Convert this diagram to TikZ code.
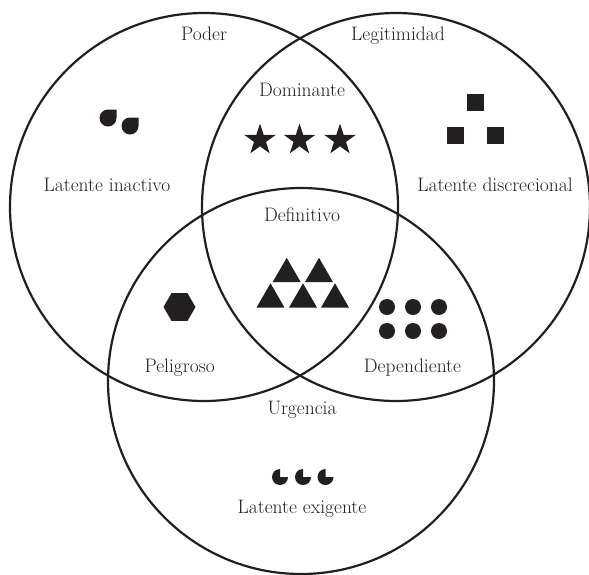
\documentclass[tikz,border=0pt]{standalone}
\usepackage{tikz}
\usetikzlibrary{shapes.geometric}
\definecolor{inkblack}{HTML}{231F20}

\begin{document}
\begin{tikzpicture}[x=1pt, y=1pt,
  ring/.style={draw=inkblack, line width=2.2pt},
  txt/.style={font=\fontsize{19.5}{22}\selectfont, text=inkblack, inner sep=0pt, anchor=base},
  starbox/.style={star, star points=5, star point ratio=2.618, minimum size=33pt, fill=inkblack, inner sep=0pt},
  tribox/.style={regular polygon, regular polygon sides=3, minimum size=32.4pt, fill=inkblack, inner sep=0pt},
  hexbox/.style={regular polygon, regular polygon sides=6, minimum size=32pt, fill=inkblack, inner sep=0pt},
  dotbox/.style={circle, minimum size=16pt, fill=inkblack, inner sep=0pt},
  sqbox/.style={rectangle, minimum size=17pt, fill=inkblack, inner sep=0pt},
  drop/.pic={\fill[inkblack] (8.5,0) -- (8.5,8.5) -- (0,8.5) arc[start angle=90, end angle=360, radius=8.5] -- cycle;},
  notch/.pic={\fill[inkblack] (0,0) -- (0,8) arc[start angle=90, end angle=360, radius=8] -- cycle;}]
  \useasboundingbox (0,0) rectangle (589,-574);

  % the three sets
  \draw[ring] (204,-207) circle[radius=194];
  \draw[ring] (396,-207) circle[radius=194];
  \draw[ring] (301,-381) circle[radius=193];

  % names of the sets
  \node[txt] (poder) at (204,-40) {Poder};
  \node[txt] (legitimidad) at (398,-40) {Legitimidad};
  \node[txt] (urgencia) at (302,-414) {Urgencia};

  % latente inactivo
  \pic at (108,-118) {drop};
  \pic at (130,-126) {drop};
  \node[txt] (inactivo) at (107,-191) {Latente inactivo};

  % latente discrecional
  \node[sqbox] (sqa) at (475.5,-102) {};
  \node[sqbox] (sqb) at (455.5,-135) {};
  \node[sqbox] (sqc) at (495.5,-135) {};
  \node[txt] (discrecional) at (495,-191) {Latente discrecional};

  % dominante
  \node[txt] (dominante) at (302,-96) {Dominante};
  \node[starbox] (stara) at (260,-140) {};
  \node[starbox] (starb) at (299.5,-140) {};
  \node[starbox] (starc) at (340,-140) {};

  % definitivo
  \node[txt] (definitivo) at (302,-221) {Definitivo};
  \node[tribox] (tria) at (286.7,-274) {};
  \node[tribox] (trib) at (319,-274) {};
  \node[tribox] (tric) at (270.5,-299.5) {};
  \node[tribox] (trid) at (303,-299.5) {};
  \node[tribox] (trie) at (335,-299.5) {};

  % peligroso
  \node[hexbox] (hexa) at (179.5,-307) {};
  \node[txt] (peligroso) at (179.6,-372) {Peligroso};

  % dependiente
  \node[dotbox] (dota) at (387,-307) {};
  \node[dotbox] (dotb) at (413,-307) {};
  \node[dotbox] (dotc) at (439,-307) {};
  \node[dotbox] (dotd) at (387,-331) {};
  \node[dotbox] (dote) at (413,-331) {};
  \node[dotbox] (dotf) at (439,-331) {};
  \node[txt] (dependiente) at (412.5,-372) {Dependiente};

  % latente exigente
  \pic at (280,-477) {notch};
  \pic at (303,-477) {notch};
  \pic at (325.5,-477) {notch};
  \node[txt] (exigente) at (302,-513) {Latente exigente};
\end{tikzpicture}
\end{document}
